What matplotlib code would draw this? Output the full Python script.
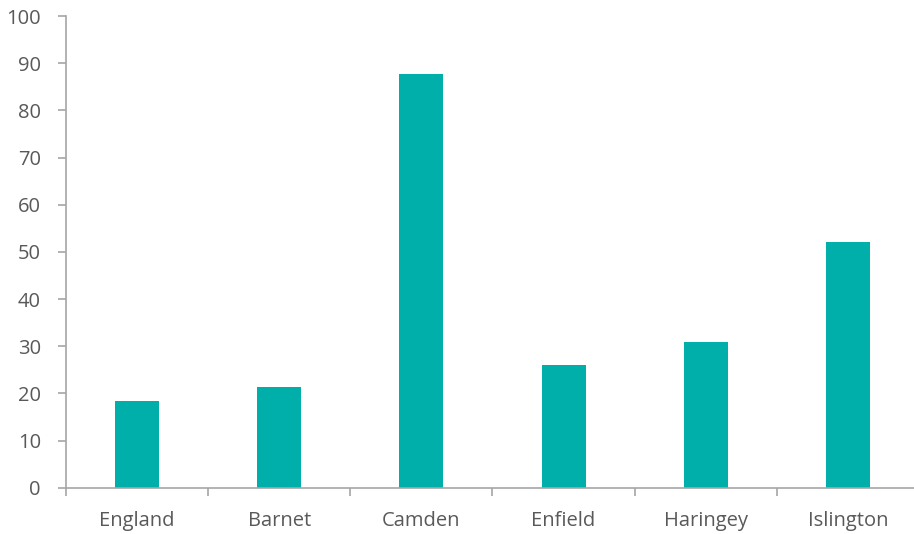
import matplotlib.pyplot as plt
from matplotlib.ticker import FixedLocator, MultipleLocator

areas = ["England", "Barnet", "Camden", "Enfield", "Haringey", "Islington"]
rates = [18.3, 21.4, 87.8, 26.0, 30.9, 52.1]

bar_colour = "#00AFAA"
axis_grey = "#A6A6A6"
text_grey = "#595959"

plt.rcParams['font.family'] = ['Open Sans', 'DejaVu Sans']

fig = plt.figure(figsize=(9.14, 5.34), dpi=100)
ax = fig.add_axes([66 / 914, 46.3 / 534, 853 / 914, 471.7 / 534])

x = range(len(areas))
ax.bar(x, rates, width=0.31, color=bar_colour, zorder=2)

ax.set_xlim(-0.5, len(areas) - 0.5)
ax.set_ylim(0, 100)

for side in ("top", "right"):
    ax.spines[side].set_visible(False)
for side in ("left", "bottom"):
    ax.spines[side].set_color(axis_grey)
    ax.spines[side].set_linewidth(1.2)

ax.yaxis.set_major_locator(MultipleLocator(10))
ax.tick_params(axis="y", length=6, width=1.2, color=axis_grey,
               labelcolor=text_grey, labelsize=14.5, pad=12)

# category labels centred, tick marks between categories
ax.set_xticks(list(x))
ax.set_xticklabels(areas)
ax.tick_params(axis="x", which="major", length=0, labelcolor=text_grey,
               labelsize=14.5, pad=17)
ax.xaxis.set_minor_locator(FixedLocator([i + 0.5 for i in range(-1, len(areas))]))
ax.tick_params(axis="x", which="minor", length=6, width=1.2, color=axis_grey)

fig.savefig("out.png", dpi=100)
